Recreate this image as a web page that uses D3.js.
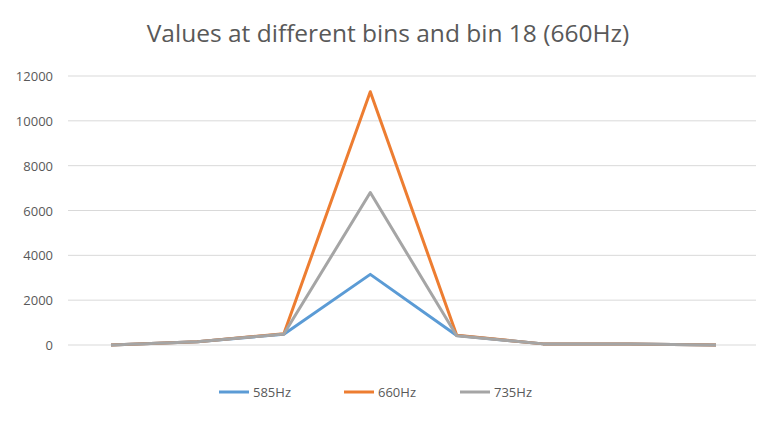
<!DOCTYPE html>
<html><head><meta charset="utf-8">
<script src="https://cdn.jsdelivr.net/npm/d3@7"></script>
<style>body{margin:0;background:#fff;font-family:"Open Sans","Liberation Sans",sans-serif}</style>
</head><body><svg id="chart" width="780" height="422"></svg>
<script>
const categories = [1, 2, 3, 4, 5, 6, 7, 8];
const seriesNames = ["585Hz", "660Hz", "735Hz"];
const v585 = [0, 150, 480, 3150, 420, 50, 40, 0];
const v660 = [0, 150, 500, 11300, 430, 50, 40, 0];
const v735 = [0, 150, 490, 6800, 410, 50, 40, 0];
const yTicks = [0, 2000, 4000, 6000, 8000, 10000, 12000];
const colors = ["#5b9bd5", "#ed7d31", "#a5a5a5"];

const svg = d3.select("#chart");
const x = d3.scalePoint().domain(categories).range([111, 716]);
const y = d3.scaleLinear().domain([0, 12000]).range([345, 76]);

svg.append("text").attr("x", 388).attr("y", 42).attr("text-anchor", "middle")
  .attr("font-size", 24.5).attr("fill", "#595959").text("Values at different bins and bin 18 (660Hz)");

const grid = svg.append("g");
yTicks.forEach(t => {
  grid.append("line").attr("x1", 68).attr("x2", 756).attr("y1", y(t)).attr("y2", y(t))
    .attr("stroke", "#d9d9d9").attr("stroke-width", 1);
  grid.append("text").attr("x", 53).attr("y", y(t) + 5).attr("text-anchor", "end")
    .attr("font-size", 13).attr("fill", "#595959").text(t);
});

const line = d3.line().x((d, i) => x(categories[i])).y(d => y(d));
[v585, v660, v735].forEach((s, i) => {
  svg.append("path").attr("d", line(s)).attr("fill", "none")
    .attr("stroke", colors[i]).attr("stroke-width", 3).attr("stroke-linejoin", "round");
});

const legendX = [219, 344, 460];
seriesNames.forEach((n, i) => {
  svg.append("line").attr("x1", legendX[i]).attr("x2", legendX[i] + 30).attr("y1", 392).attr("y2", 392)
    .attr("stroke", colors[i]).attr("stroke-width", 3);
  svg.append("text").attr("x", legendX[i] + 34).attr("y", 397).attr("font-size", 13)
    .attr("fill", "#595959").text(n);
});
</script></body></html>
